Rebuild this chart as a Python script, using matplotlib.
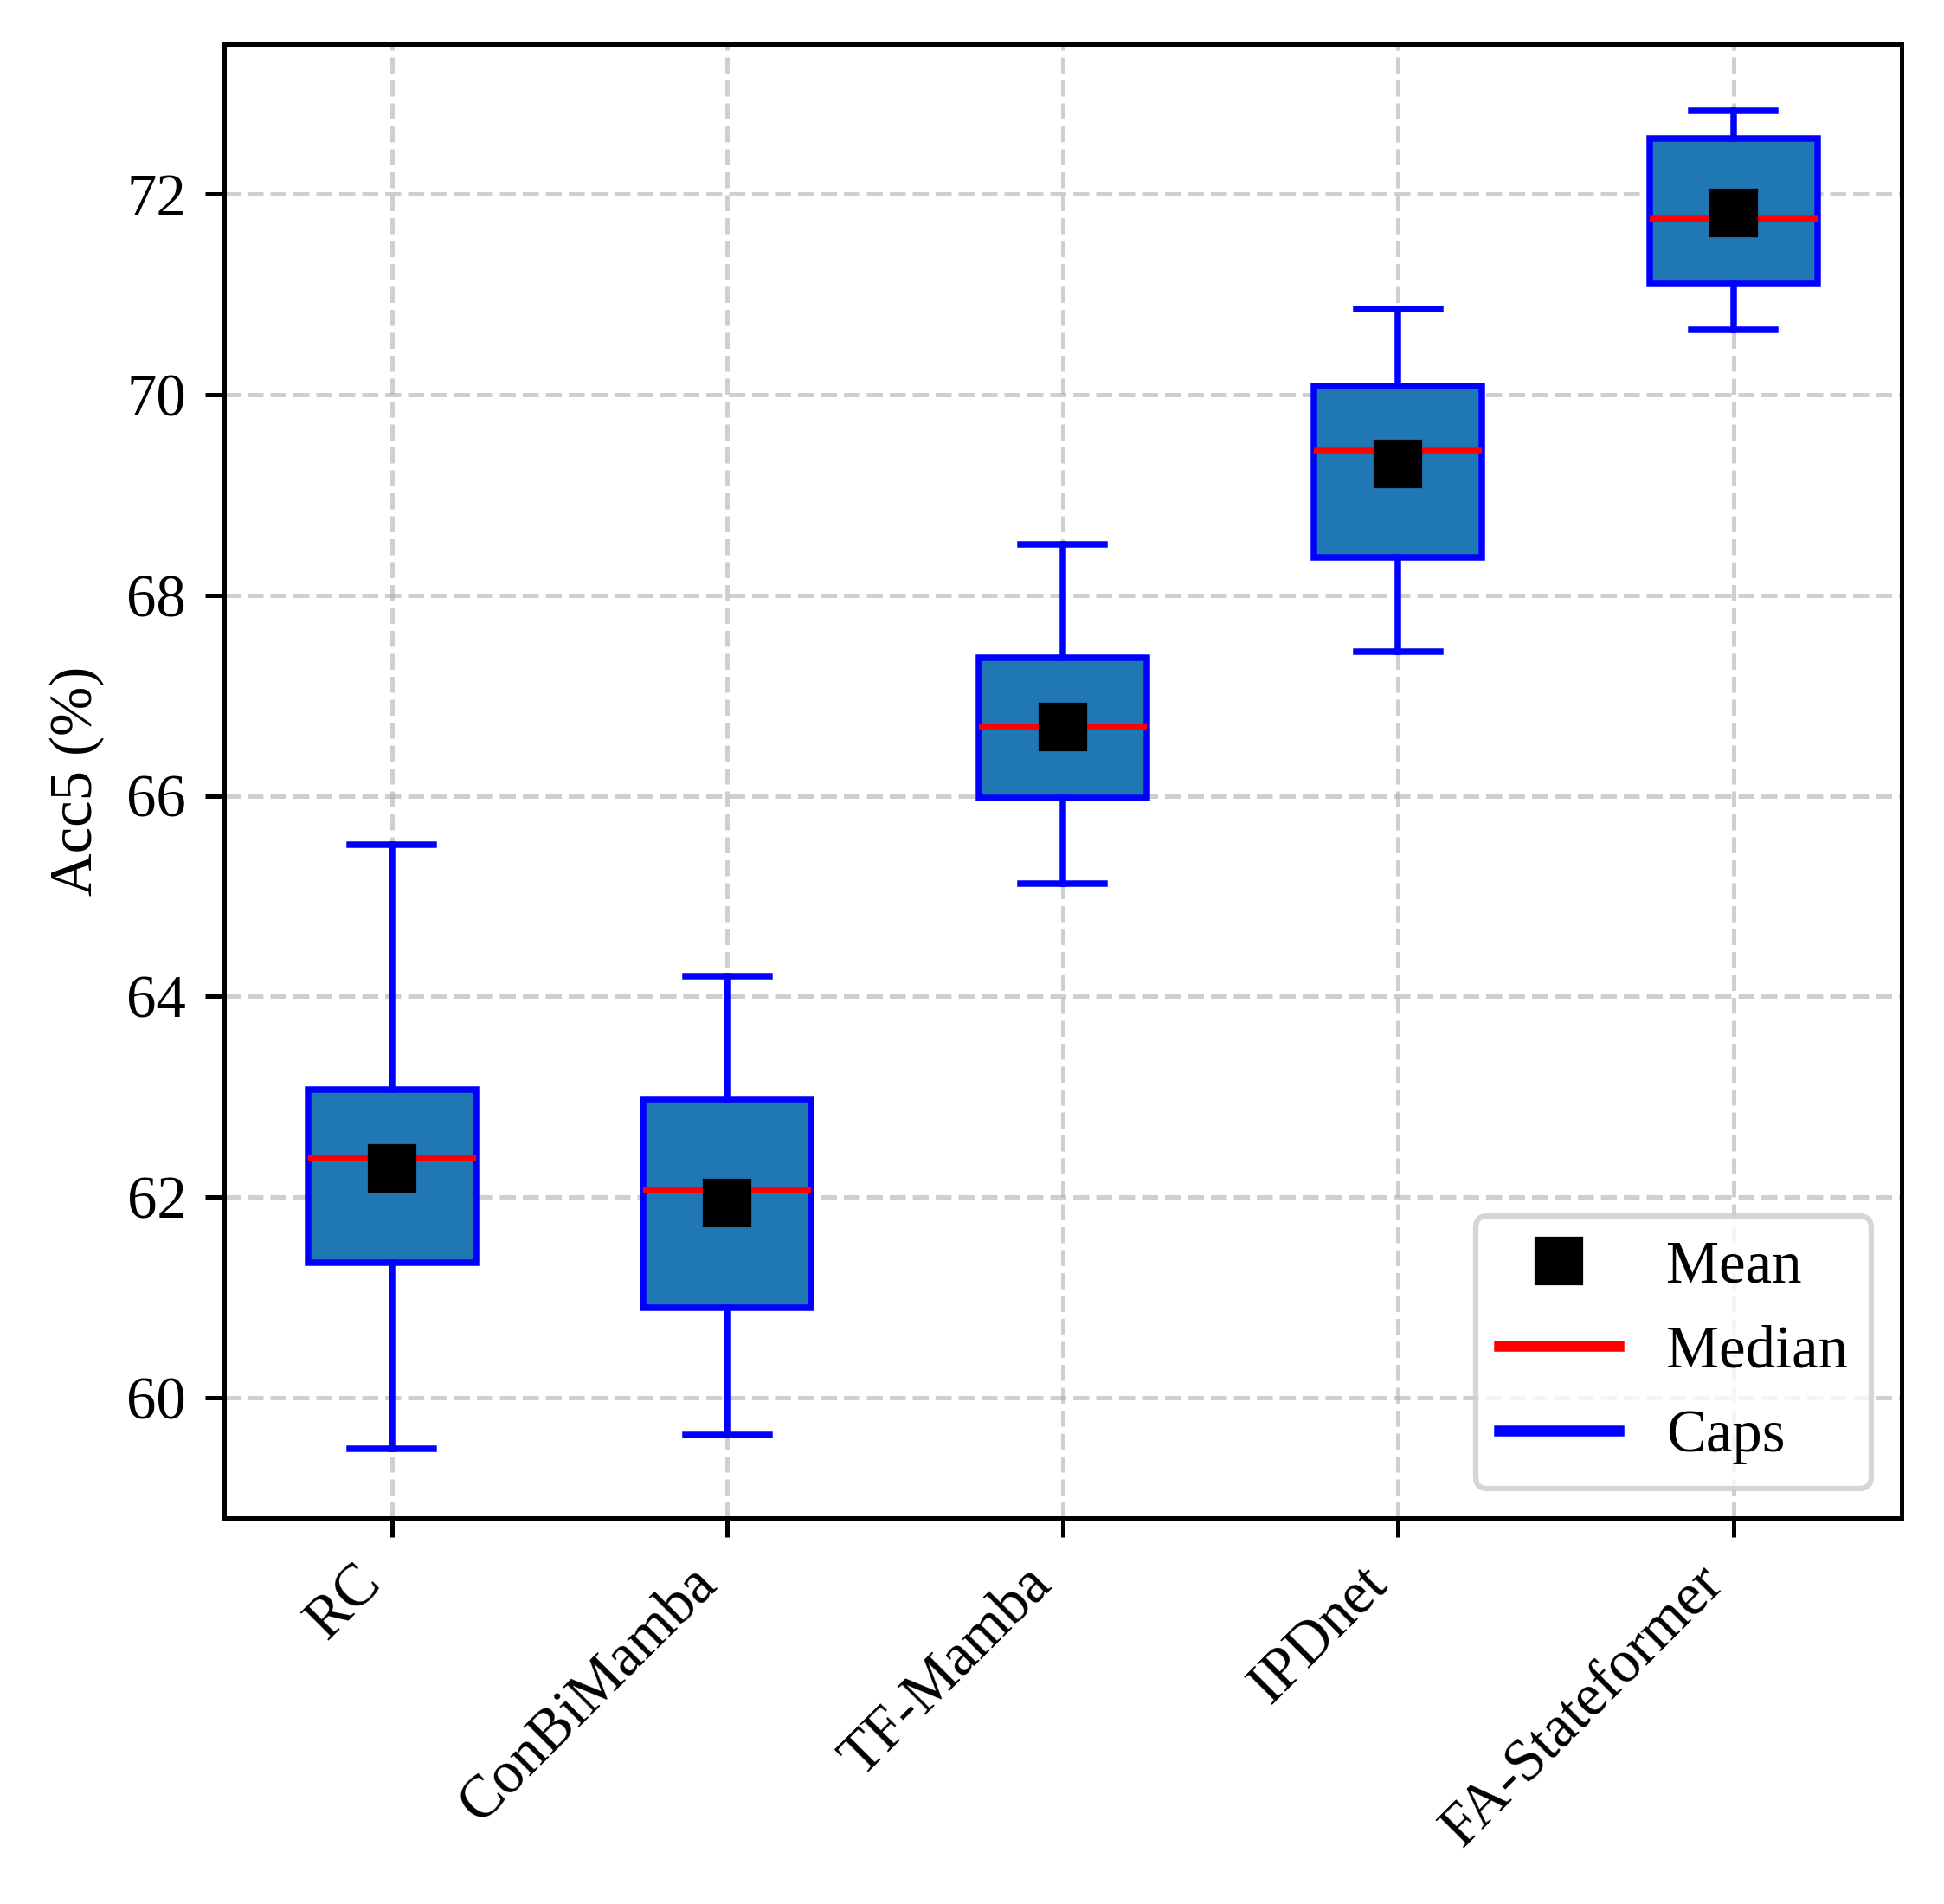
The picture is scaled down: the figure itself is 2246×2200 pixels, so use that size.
import matplotlib
matplotlib.use("Agg")
import matplotlib.pyplot as plt
from matplotlib.lines import Line2D

models = ["RC", "ConBiMamba", "TF-Mamba", "IPDnet", "FA-Stateformer"]
whislo = [59.49, 59.63, 65.13, 67.44, 70.65]
q1 = [61.35, 60.90, 65.98, 68.38, 71.11]
med = [62.39, 62.07, 66.69, 69.44, 71.75]
q3 = [63.07, 62.98, 67.38, 70.09, 72.56]
whishi = [65.51, 64.20, 68.51, 70.86, 72.83]
means = [62.29, 61.94, 66.69, 69.31, 71.81]

plt.rcParams['font.family'] = ['Liberation Serif', 'DejaVu Serif']
plt.rcParams['font.size'] = 11

stats = []
for i in range(len(models)):
    stats.append({'label': models[i], 'whislo': whislo[i], 'q1': q1[i], 'med': med[i],
                  'q3': q3[i], 'whishi': whishi[i], 'mean': means[i], 'fliers': []})

fig, ax = plt.subplots(figsize=(2246 / 450, 2200 / 450), dpi=450)
fig.subplots_adjust(left=0.1153, right=0.978, top=0.977, bottom=0.2027)

ax.grid(True, linestyle='--', linewidth=0.8, alpha=0.6, zorder=0)
ax.set_axisbelow(True)

ax.bxp(stats, showmeans=True, patch_artist=True, widths=0.5,
       boxprops=dict(facecolor='#1f77b4', edgecolor='blue', linewidth=1.2),
       whiskerprops=dict(color='blue', linewidth=1.2),
       capprops=dict(color='blue', linewidth=1.2),
       medianprops=dict(color='red', linewidth=1.2),
       meanprops=dict(marker='s', markerfacecolor='black', markeredgecolor='black', markersize=8))

ax.set_xlim(0.5, 5.5)
ax.set_ylim(58.8, 73.5)
ax.set_yticks([60, 62, 64, 66, 68, 70, 72])
ax.set_xticks(range(1, len(models) + 1))
ax.set_xticklabels(models, rotation=45, ha='right')
ax.set_ylabel("Acc5 (%)")

handles = [Line2D([], [], marker='s', color='black', linestyle='None', markersize=8),
           Line2D([], [], color='red', linewidth=2),
           Line2D([], [], color='blue', linewidth=2)]
ax.legend(handles, ["Mean", "Median", "Caps"], loc='lower right')

fig.savefig("out.png", dpi=450)
